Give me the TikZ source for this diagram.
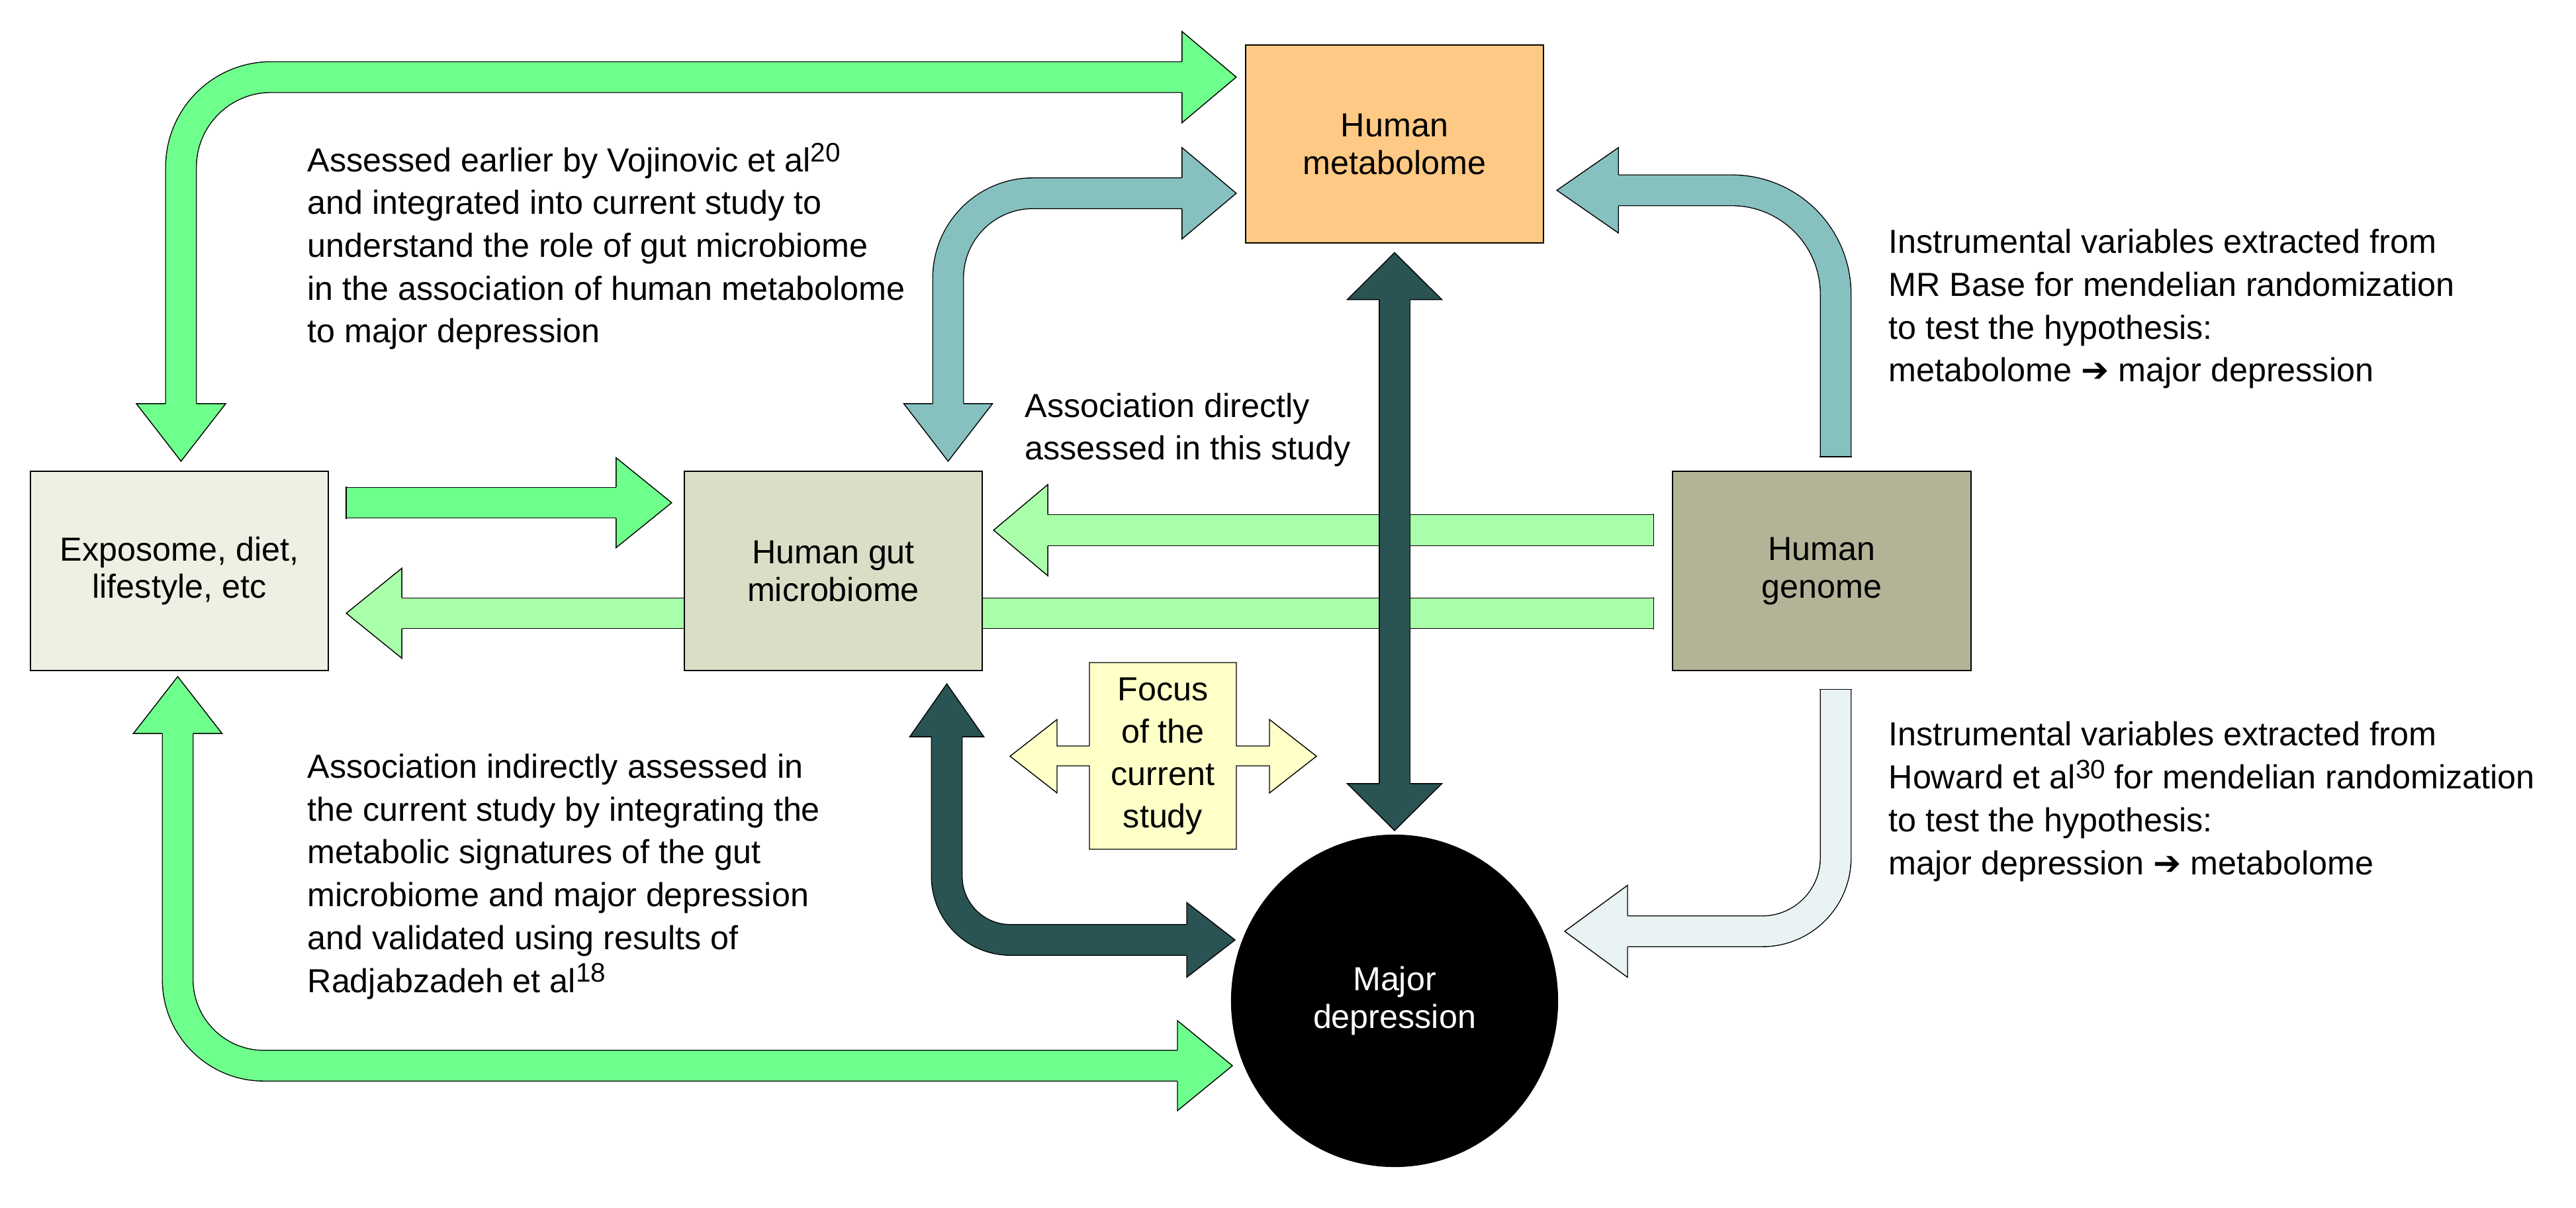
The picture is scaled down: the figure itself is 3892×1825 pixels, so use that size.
\documentclass[tikz,border=0pt]{standalone}
\usepackage{fontspec}
\setmainfont{Liberation Sans}
\newfontfamily\symfont{DejaVu Sans}
\usetikzlibrary{shapes.geometric,calc,backgrounds}

\newcommand{\refmark}[1]{\raisebox{4.3pt}{\fontsize{11.5}{11.5}\selectfont #1}}

\definecolor{brightgreen}{HTML}{6FFF8C}
\definecolor{palegreen}{HTML}{AAFFAA}
\definecolor{tealmid}{HTML}{86C1C0}
\definecolor{tealpale}{HTML}{EAF3F3}
\definecolor{tealdark}{HTML}{2A5353}
\definecolor{metabfill}{HTML}{FEC984}
\definecolor{expofill}{HTML}{EFF0E4}
\definecolor{microfill}{HTML}{DBDEC6}
\definecolor{genomefill}{HTML}{B3B497}
\definecolor{focusfill}{HTML}{FFFFC8}

\begin{document}
\begin{tikzpicture}[x=0.01cm,y=-0.01cm,line width=0.6pt,
  box/.style={draw,align=center,minimum width=4.5cm,minimum height=3.01cm,inner sep=0pt,font=\fontsize{14.3}{16.2}\selectfont},
  note/.style={anchor=base west,align=left,inner sep=0pt,font=\fontsize{14.3}{18.4}\selectfont},
  shaft/.style={double=#1,double distance=0.45cm}]
\useasboundingbox (0,0) rectangle (3892,1825);

% boxes
\node[box,fill=expofill] (expo) at (271,862.5) {Exposome, diet,\\lifestyle, etc};
\node[box,fill=microfill] (micro) at (1259,862.5) {Human gut\\microbiome};
\node[box,fill=genomefill] (genome) at (2752.5,862.5) {Human\\genome};
\node[box,fill=metabfill,minimum height=2.99cm] (metab) at (2107,217.5) {Human\\metabolome};
\node[ellipse,fill=black,text=white,minimum width=4.94cm,minimum height=5.02cm,align=center,
  font=\fontsize{14.3}{16.2}\selectfont] (dep) at (2107,1512) {Major\\depression};

% arrow ends
\coordinate (A1) at ($(expo.north)+(2.5,-14)$);
\coordinate (A2) at ($(metab.west)+(-13,-101)$);
\coordinate (B) at ($(micro.west)+(-18,-103)$);
\coordinate (Bt) at ($(expo.east)+(26,-103)$);
\coordinate (C) at ($(micro.east)+(16,-61.5)$);
\coordinate (Ct) at ($(genome.west)+(-28,-61.5)$);
\coordinate (D) at ($(expo.east)+(26,64)$);
\coordinate (Dt) at ($(genome.west)+(-28,64)$);
\coordinate (E1) at ($(expo.south)+(-2.5,8)$);
\coordinate (E2) at ($(dep.center)+(-245,98)$);
\coordinate (F1) at ($(micro.north)+(173.5,-14)$);
\coordinate (F2) at ($(metab.west)+(-13,74.5)$);
\coordinate (G) at ($(metab.east)+(19,70)$);
\coordinate (Gt) at ($(genome.north)+(21,-21)$);
\coordinate (H) at ($(dep.center)+(257,-105)$);
\coordinate (Ht) at ($(genome.south)+(21,27.5)$);
\coordinate (I1) at ($(metab.south)+(0,13.5)$);
\coordinate (I2) at ($(dep.north)+(0,-5)$);
\coordinate (J1) at ($(micro.south)+(171.5,19)$);
\coordinate (J2) at ($(dep.center)+(-241,-92)$);

% genome to exposome, under the microbiome box
\begin{pgfonlayer}{background}
\draw[shaft=palegreen] (Dt) -- ($(D)+(81,0)$);
\end{pgfonlayer}

% shafts
\draw[shaft=brightgreen,rounded corners=1.36cm] ($(A1)+(0,-84)$) |- ($(A2)+(-79,0)$);
\draw[shaft=brightgreen] (Bt) -- ($(B)+(-81,0)$);
\draw[shaft=palegreen] (Ct) -- ($(C)+(79,0)$);
\draw[shaft=brightgreen,rounded corners=1.3cm] ($(E1)+(0,83)$) |- ($(E2)+(-80,0)$);
\draw[shaft=tealmid,rounded corners=1.28cm] ($(F1)+(0,-84)$) |- ($(F2)+(-79,0)$);
\draw[shaft=tealmid,rounded corners=1.57cm] (Gt) |- ($(G)+(90,0)$);
\draw[shaft=tealpale,rounded corners=1.11cm] (Ht) |- ($(H)+(92,0)$);
\draw[shaft=tealdark] ($(I1)+(0,68)$) -- ($(I2)+(0,-68)$);
\draw[shaft=tealdark,rounded corners=0.96cm] ($(J1)+(0,77)$) |- ($(J2)+(-70,0)$);

% flat tails
\foreach \t/\a in {Bt/0,Ct/0,Dt/0,Gt/90,Ht/90}
  \draw[shift={(\t)},rotate=\a] (0,-24.5) -- (0,24.5);

% heads
\foreach \p/\a/\l/\h/\c in {A1/270/87/67.5/brightgreen, A2/0/82/69/brightgreen,
    B/0/84/68/brightgreen, C/180/82/69/palegreen, D/180/84/68/palegreen,
    E1/90/86/67/brightgreen, E2/0/83/68/brightgreen, F1/270/87/67/tealmid,
    F2/0/82/69/tealmid, G/180/93/64.5/tealmid, H/180/95/69.5/tealpale,
    I1/90/71/71.5/tealdark, I2/270/71/71.5/tealdark, J1/90/80/56/tealdark,
    J2/0/73/56.5/tealdark}
{
  \begin{scope}[shift={(\p)},rotate=\a]
  \fill[\c] (0,0) -- (-\l,\h) -- (-\l,-\h) -- cycle;
  \draw (-\l,23.5) -- (-\l,\h) -- (0,0) -- (-\l,-\h) -- (-\l,-23.5);
  \end{scope}
}

% focus of the study
\filldraw[fill=focusfill] (1646,1001) -- (1868,1001) -- (1868,1127) -- (1918,1127) -- (1918,1087)
  -- (1989,1142.5) -- (1918,1198) -- (1918,1157) -- (1868,1157) -- (1868,1283) -- (1646,1283)
  -- (1646,1157) -- (1597,1157) -- (1597,1198) -- (1526,1142.5) -- (1597,1087) -- (1597,1127)
  -- (1646,1127) -- cycle;
\node[align=center,font=\fontsize{14.3}{18.2}\selectfont] (focus) at (1757,1142) {Focus\\of the\\current\\study};

% notes (placed at the baseline of their last line)
\node[note] (earlier) at (464,518) {Assessed earlier by Vojinovic et al\refmark{20}\\and integrated into current study to\\understand the role of gut microbiome\\in the association of human metabolome\\to major depression};
\node[note] (direct) at (1548,695) {Association directly\\assessed in this study};
\node[note] (mrbase) at (2853,577) {Instrumental variables extracted from\\MR Base for mendelian randomization\\to test the hypothesis:\\metabolome {\symfont ➔} major depression};
\node[note] (howard) at (2853,1321) {Instrumental variables extracted from\\Howard et al\refmark{30} for mendelian randomization\\to test the hypothesis:\\major depression {\symfont ➔} metabolome};
\node[note] (indirect) at (464,1499) {Association indirectly assessed in\\the current study by integrating the\\metabolic signatures of the gut\\microbiome and major depression\\and validated using results of\\Radjabzadeh et al\refmark{18}};
\end{tikzpicture}
\end{document}
